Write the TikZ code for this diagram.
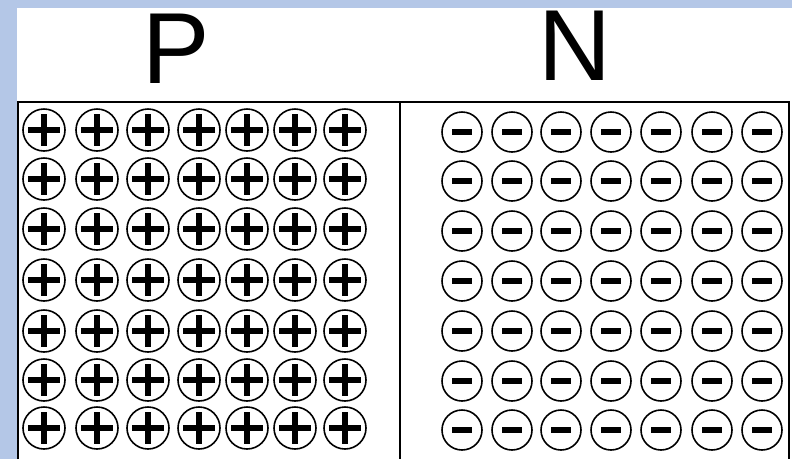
\documentclass[tikz,border=0pt]{standalone}
\usepackage{fontspec}
\setmainfont{Liberation Sans}
\usepackage{tikz}
\usetikzlibrary{positioning}
\definecolor{frameBlue}{RGB}{180,199,231}

\begin{document}
\begin{tikzpicture}[
  x=1pt, y=-1pt,
  ion/.style={circle, draw, line width=1.6pt, inner sep=0pt},
  plusion/.style={ion, minimum size=42pt,
    path picture={
      \fill (path picture bounding box.center) ++(-16pt,-3.3pt) rectangle ++(32pt,6.6pt);
      \fill (path picture bounding box.center) ++(-3.3pt,-16pt) rectangle ++(6.6pt,32pt);}},
  minusion/.style={ion, minimum size=40pt,
    path picture={
      \fill (path picture bounding box.center) ++(-10pt,-2.6pt) rectangle ++(20pt,5.2pt);}},
  typelab/.style={font=\fontsize{101}{101}\selectfont, anchor=base, inner sep=0pt}
]
\useasboundingbox (0,0) rectangle (792,459);
\fill[white] (0,0) rectangle (792,459);

\node[typelab] (labP) at (176,83) {P};
\node[typelab] (labN) at (575,80) {N};

\fill[frameBlue] (0,0) rectangle (792,8);
\fill[frameBlue] (0,0) rectangle (17,459);

\draw[line width=2.5pt] (18,459) |- (789,102) -- (789,459);
\draw[line width=2pt] (400,102) -- (400,459);

\foreach \y [count=\r] in {130,179,229,280,331,380,428}
  \foreach \x [count=\c] in {44,97,148,199,247,295,345}
    \node[plusion] (p\r-\c) at (\x,\y) {};

\foreach \y [count=\r] in {132,181,231,281,331,381,430}
  \foreach \x [count=\c] in {462,512,561,611,661,712,762}
    \node[minusion] (n\r-\c) at (\x,\y) {};
\end{tikzpicture}
\end{document}
